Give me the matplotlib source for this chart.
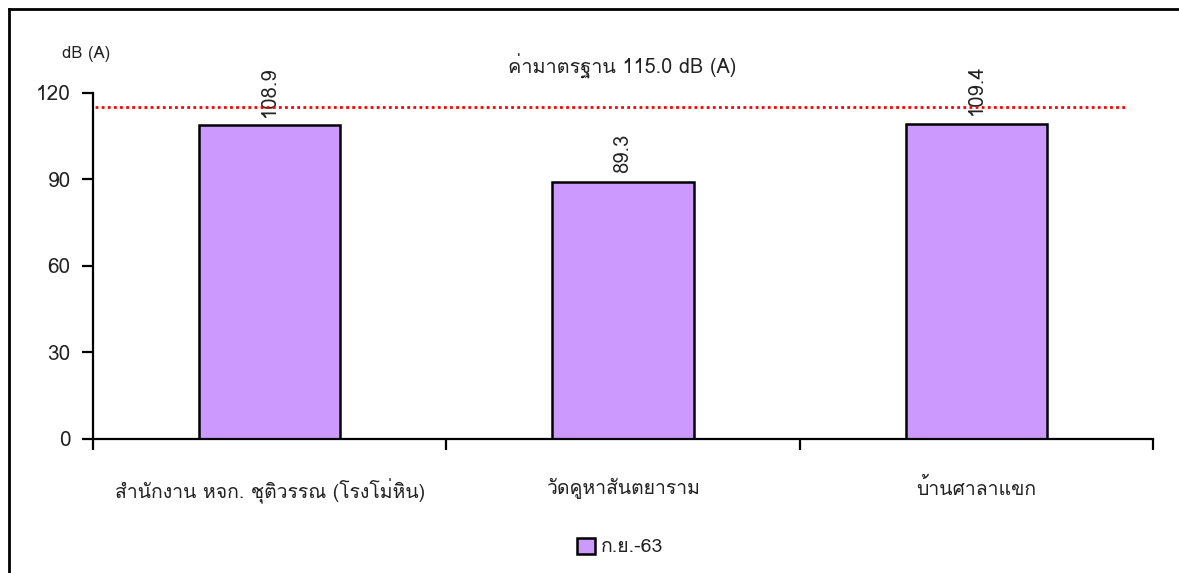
import numpy as np
import matplotlib
matplotlib.use('Agg')
import matplotlib.pyplot as plt
from matplotlib import font_manager
from matplotlib.ft2font import FT2Font
from matplotlib.lines import Line2D

stations = ['สำนักงาน หจก. ชุติวรรณ (โรงโม่หิน)', 'วัดคูหาสันตยาราม', 'บ้านศาลาแขก']
noise = [108.9, 89.3, 109.4]
series_name = 'ก.ย.-63'
limit = 115.0
limit_text = 'ค่ามาตรฐาน 115.0 dB (A)'
unit_text = 'dB (A)'
yticks = [0, 30, 60, 90, 120]


def thai_family():
  # look for an installed font with Thai glyphs
  for f in font_manager.fontManager.ttflist:
    try:
      ft = FT2Font(f.fname)
      if ft.get_char_index(0x0E01) and ft.get_char_index(0x0E2A):
        return f.name
    except Exception:
      continue
  return None


fam = thai_family()
fams = ['DejaVu Sans']
if fam:
  fams = [fam, 'DejaVu Sans']
plt.rcParams['font.family'] = fams

txt = '#222222'

fig = plt.figure(figsize=(11.79, 5.73), dpi=100)
ax = fig.add_axes([0.0789, 0.2339, 0.899, 0.6038])

x = np.arange(len(stations))
bars = ax.bar(x, noise, width=0.40, color='#CC99FF', edgecolor='black', linewidth=1.8, zorder=2)

for xi, v in zip(x, noise):
  ax.annotate('%.1f' % v, (xi, v), xytext=(0, 6), textcoords='offset points',
              rotation=90, ha='center', va='bottom', fontsize=14.5, color=txt)

ax.hlines(limit, -0.51, 2.425, colors='red', linestyles=(0, (1, 1.2)), linewidth=2, zorder=3)

ax.set_xlim(-0.5, 2.5)
ax.set_ylim(0, 120)
ax.set_yticks(yticks)
ax.set_xticks(x)
ax.set_xticklabels(stations)
ax.set_xticks([-0.5, 0.5, 1.5, 2.5], minor=True)
ax.tick_params(axis='x', which='major', length=0, pad=28, labelsize=14, labelcolor=txt)
ax.tick_params(axis='x', which='minor', length=8, width=1.6, direction='out')
ax.tick_params(axis='y', length=8, width=1.6, direction='out', pad=8, labelsize=15, labelcolor=txt)

for s in ['top', 'right']:
  ax.spines[s].set_visible(False)
for s in ['left', 'bottom']:
  ax.spines[s].set_linewidth(1.6)

fig.text(86 / 1179, 1 - 54 / 573, unit_text, ha='center', va='center', fontsize=12, color=txt)
fig.text(622 / 1179, 1 - 66 / 573, limit_text, ha='center', va='center', fontsize=14.3, color=txt)

ax.legend([bars], [series_name], loc='center', bbox_to_anchor=(620 / 1179, 1 - 547 / 573),
          bbox_transform=fig.transFigure, frameon=False, fontsize=14, handlelength=0.9,
          handleheight=0.9, handletextpad=0.3, labelcolor=txt)

# outer chart frame (only top and left edges are in view)
fig.add_artist(Line2D([9 / 1179, 1.0], [1 - 9 / 573, 1 - 9 / 573], color='black', lw=2, transform=fig.transFigure))
fig.add_artist(Line2D([9 / 1179, 9 / 1179], [0.0, 1 - 9 / 573], color='black', lw=2, transform=fig.transFigure))

fig.savefig('out.png', dpi=100)
